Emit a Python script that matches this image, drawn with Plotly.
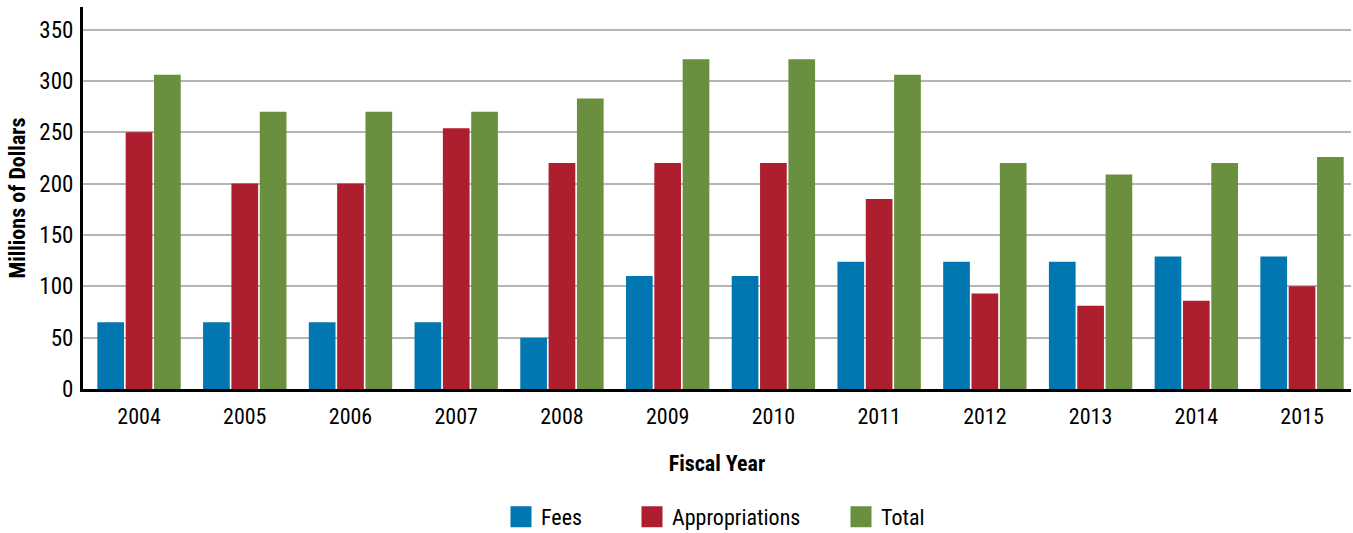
import plotly.graph_objects as go

years = ["2004", "2005", "2006", "2007", "2008", "2009", "2010", "2011", "2012", "2013", "2014", "2015"]
fees = [65, 65, 65, 65, 50, 110, 110, 124, 124, 124, 129, 129]
appropriations = [250, 200, 200, 254, 220, 220, 220, 185, 93, 81, 86, 100]
total = [306, 270, 270, 270, 283, 321, 321, 306, 220, 209, 220, 226]

series = [("Fees", fees, "#0077b0"),
          ("Appropriations", appropriations, "#ad1e2e"),
          ("Total", total, "#6a8f3e")]

FONT = "Roboto Condensed, Liberation Sans, sans-serif"
W = 1353

fig = go.Figure()
for name, vals, col in series:
    fig.add_trace(go.Bar(x=years, y=vals, name=name, marker=dict(color=col, line=dict(width=0)),
                         showlegend=False))

legend_names = ["legend", "legend2", "legend3"]
legend_left_px = [501, 632, 841]
legend_layout = {}
for (name, vals, col), lg, lx in zip(series, legend_names, legend_left_px):
    fig.add_trace(go.Scatter(x=[None], y=[None], mode="markers", name=name, legend=lg,
                             marker=dict(symbol="square", size=16, color=col,
                                         line=dict(color=col, width=6))))
    legend_layout[lg] = dict(orientation="h", x=lx / W, xanchor="left", xref="container",
                             y=0.03, yanchor="middle", yref="container",
                             font=dict(family=FONT, size=22, color="black"),
                             itemsizing="trace", bgcolor="rgba(0,0,0,0)")

fig.update_layout(
    width=W, height=533,
    margin=dict(l=83, r=2, t=7, b=144, autoexpand=False),
    paper_bgcolor="white", plot_bgcolor="white",
    barmode="group", bargap=0.196, bargroupgap=0.058,
    font=dict(family=FONT, size=22, color="black"),
    showlegend=True,
    xaxis=dict(range=[-0.53, 11.463], showline=True, linecolor="black", linewidth=3, ticks="",
               tickfont=dict(size=22), showgrid=False, ticklabelstandoff=6,
               title=dict(text="<b>Fiscal Year</b>", font=dict(size=22), standoff=28)),
    yaxis=dict(range=[0, 372], tickvals=[0, 50, 100, 150, 200, 250, 300, 350],
               showline=True, linecolor="black", linewidth=3, ticks="",
               showgrid=True, gridcolor="#b5b5b5", gridwidth=1.5,
               zeroline=False, tickfont=dict(size=23), ticklabelstandoff=2,
               title=dict(text="<b>Millions of Dollars</b>", font=dict(size=22), standoff=8)),
    **legend_layout,
)

fig.write_html("out.html")
